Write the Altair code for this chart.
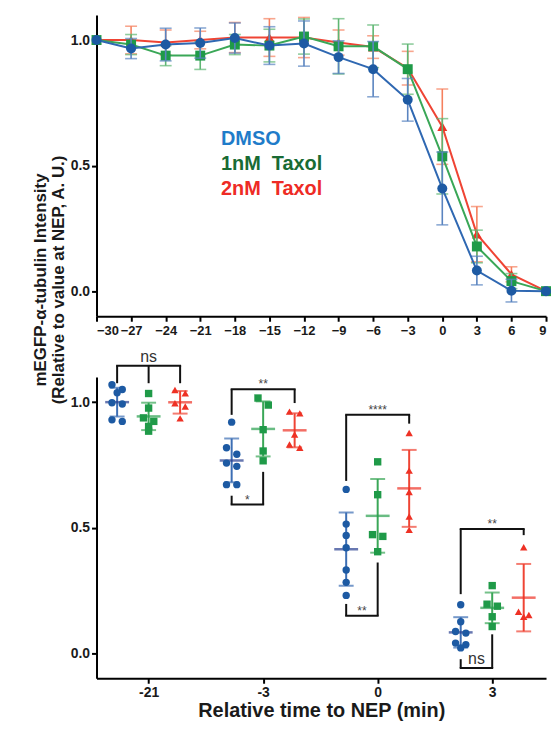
import altair as alt
import pandas as pd

# ---------------- data ----------------
series = ["DMSO", "1nM Taxol", "2nM Taxol"]
legend_labels = ["DMSO", "1nM\u00a0 Taxol", "2nM\u00a0 Taxol"]

times = [-30, -27, -24, -21, -18, -15, -12, -9, -6, -3, 0, 3, 6, 9]
dmso_mean = [1.0, 0.966, 0.982, 0.988, 1.008, 0.978, 0.986, 0.932, 0.884, 0.762, 0.409, 0.082, 0.002, 0.0]
dmso_sd = [0.0, 0.04, 0.065, 0.06, 0.06, 0.075, 0.09, 0.065, 0.11, 0.085, 0.145, 0.057, 0.045, 0.0]
taxol1_mean = [1.0, 0.982, 0.938, 0.938, 0.982, 0.978, 1.014, 0.975, 0.975, 0.884, 0.537, 0.178, 0.04, 0.0]
taxol1_sd = [0.0, 0.04, 0.04, 0.055, 0.04, 0.065, 0.07, 0.11, 0.085, 0.1, 0.15, 0.065, 0.03, 0.0]
taxol2_mean = [1.0, 1.0, 0.99, 1.0, 1.01, 1.01, 1.01, 0.99, 0.972, 0.888, 0.655, 0.227, 0.067, 0.0]
taxol2_sd = [0.0, 0.055, 0.05, 0.035, 0.06, 0.075, 0.08, 0.05, 0.045, 0.067, 0.15, 0.11, 0.03, 0.0]

bottom_times = ["-21", "-3", "0", "3"]
dmso_pts = [
    [1.069, 1.050, 1.037, 0.997, 0.992, 0.929, 0.923],
    [0.920, 0.818, 0.792, 0.757, 0.744, 0.671, 0.671],
    [0.652, 0.514, 0.469, 0.420, 0.331, 0.282, 0.230],
    [0.193, 0.125, 0.086, 0.080, 0.040, 0.034, 0.021],
]
taxol1_pts = [
    [1.034, 0.976, 0.937, 0.923, 0.903, 0.884],
    [1.016, 0.988, 0.890, 0.805, 0.766],
    [0.762, 0.631, 0.472, 0.465, 0.404],
    [0.269, 0.195, 0.187, 0.145, 0.106],
]
taxol2_pts = [
    [1.048, 1.035, 0.995, 0.982, 0.935],
    [0.962, 0.955, 0.871, 0.831, 0.818],
    [0.877, 0.727, 0.642, 0.544, 0.491],
    [0.422, 0.165, 0.152, 0.145],
]

# significance brackets: category, groups, prong ends, bar level, label, label level
brackets = [
    (0, [0, 1, 2], [1.075, 1.075, 1.075], 1.145, "ns", 1.18),
    (1, [0, 2], [0.949, 0.996], 1.051, "**", 1.072),
    (1, [0, 1], [0.627, 0.722], 0.592, "*", 0.610),
    (2, [0, 2], [0.686, 0.914], 0.949, "****", 0.970),
    (2, [0, 1], [0.196, 0.361], 0.149, "**", 0.168),
    (3, [0, 2], [0.235, 0.470], 0.494, "**", 0.515),
    (3, [0, 1], [-0.024, 0.075], -0.059, "ns", -0.022),
]

# ---------------- styles ----------------
FONT = "Liberation Sans"
marker_colors = ["#1d5aa3", "#1f9a48", "#ee3124"]
line_colors = ["#2f68b2", "#3aa757", "#ef4434"]
err_colors = ["#5a84c0", "#5fb673", "#f5805e"]
legend_colors = ["#1f7cc9", "#196b34", "#ee2b25"]
mean_colors = ["#283f90", "#2aa04e", "#ee3124"]
sd_colors = ["#3c6eb4", "#3aa757", "#ef4434"]
shapes = ["circle", "square", "triangle-up"]
group_offset = [-0.275, 0.0, 0.275]
JIT = 0.045
W, H = 452, 303

# ---------------- top panel ----------------
rows = []
for s, m, sd in zip(series, [dmso_mean, taxol1_mean, taxol2_mean], [dmso_sd, taxol1_sd, taxol2_sd]):
    for t, mv, sv in zip(times, m, sd):
        rows.append(dict(series=s, time=t, mean=mv, lo=mv - sv, hi=mv + sv, sd=sv))
top_df = pd.DataFrame(rows)

y_scale = alt.Scale(domain=[-0.1, 1.1], nice=False, zero=False)
x_top_scale = alt.Scale(domain=[-30, 9], nice=False, zero=False)
x_top_axis = alt.Axis(values=times, title=None, labelFontSize=13, format="d", labelPadding=3)
y_top_axis = alt.Axis(
    values=[0.0, 0.5, 1.0], format=".1f",
    title=["mEGFP-\u03b1-tubulin Intensity", "(Relative to value at NEP, A. U.)"],
    titleFontSize=17, titleLineHeight=18, titleAngle=270, titleAlign="center",
    titleBaseline="middle", titleX=-56, titleY=266,
)


def xt(field="time"):
    return alt.X(f"{field}:Q", scale=x_top_scale, axis=x_top_axis)


def yt(field):
    return alt.Y(f"{field}:Q", scale=y_scale, axis=y_top_axis)


top_layers = []
for i in [2, 1, 0]:
    s = series[i]
    base = alt.Chart(top_df).transform_filter(alt.datum.series == s)
    errb = base.transform_filter(alt.datum.sd > 0)
    top_layers.append(errb.mark_rule(color=err_colors[i], strokeWidth=1.6).encode(x=xt(), y=yt("lo"), y2="hi:Q"))
    top_layers.append(errb.mark_tick(orient="horizontal", color=err_colors[i], size=12, thickness=1.6).encode(x=xt(), y=yt("lo")))
    top_layers.append(errb.mark_tick(orient="horizontal", color=err_colors[i], size=12, thickness=1.6).encode(x=xt(), y=yt("hi")))
    top_layers.append(base.mark_line(color=line_colors[i], strokeWidth=2).encode(x=xt(), y=yt("mean")))
    top_layers.append(base.mark_point(shape=shapes[i], filled=True, size=100, color=marker_colors[i], opacity=1).encode(x=xt(), y=yt("mean")))

leg_df = pd.DataFrame({"series": series, "label": legend_labels, "k": [0, 1, 2]})
legend_layer = alt.Chart(leg_df).transform_calculate(
    lx="-19.2", ly="0.605 - 0.1 * datum.k"
).mark_text(align="left", baseline="middle", font=FONT, fontWeight="bold", fontSize=20).encode(
    x=xt("lx"), y=yt("ly"), text="label:N",
    color=alt.Color("series:N", scale=alt.Scale(domain=series, range=legend_colors), legend=None),
)
top_layers.append(legend_layer)

top = alt.layer(*top_layers).properties(width=W, height=H)

# ---------------- bottom panel ----------------
def spread(vals):
    order = sorted(range(len(vals)), key=lambda k: -vals[k])
    offs = [0.0] * len(vals)
    clusters, cur = [], [order[0]]
    for k in order[1:]:
        if abs(vals[k] - vals[cur[-1]]) < 0.03:
            cur.append(k)
        else:
            clusters.append(cur)
            cur = [k]
    clusters.append(cur)
    for c in clusters:
        n = len(c)
        for j, k in enumerate(c):
            if n == 1:
                offs[k] = 0.0
            else:
                offs[k] = (-1 if j % 2 == 0 else 1) * JIT if n == 2 or j < 2 else 0.0
    return offs


brow = []
for gi, (s, allp) in enumerate(zip(series, [dmso_pts, taxol1_pts, taxol2_pts])):
    for ci, vals in enumerate(allp):
        xc = ci + group_offset[gi]
        for v, j in zip(vals, spread(vals)):
            brow.append(dict(series=s, cat=ci, xc=xc, xj=xc + j, value=v))
bot_df = pd.DataFrame(brow)

x_bot_scale = alt.Scale(domain=[-0.455, 3.47], nice=False, zero=False)
x_bot_axis = alt.Axis(
    values=[0, 1, 2, 3], labelExpr="['-21','-3','0','3'][datum.value]",
    title="Relative time to NEP (min)", titleFontSize=20, titlePadding=1, labelFontSize=14, labelPadding=2,
)
y_bot_axis = alt.Axis(values=[0.0, 0.5, 1.0], format=".1f", title=None)


def xb(field):
    return alt.X(f"{field}:Q", scale=x_bot_scale, axis=x_bot_axis)


def yb(field):
    return alt.Y(f"{field}:Q", scale=y_scale, axis=y_bot_axis)


def cscale(rng):
    return alt.Color("series:N", scale=alt.Scale(domain=series, range=rng), legend=None)


summ = alt.Chart(bot_df).transform_aggregate(
    m="mean(value)", sd="stdev(value)", groupby=["series", "xc"]
).transform_calculate(lo="datum.m - datum.sd", hi="datum.m + datum.sd")

pts = alt.Chart(bot_df).mark_point(filled=True, size=55, opacity=1).encode(
    x=xb("xj"), y=yb("value"), color=cscale(marker_colors),
    shape=alt.Shape("series:N", scale=alt.Scale(domain=series, range=shapes), legend=None),
)
sd_rule = summ.mark_rule(strokeWidth=2).encode(x=xb("xc"), y=yb("lo"), y2="hi:Q", color=cscale(sd_colors))
sd_lo = summ.mark_tick(orient="horizontal", size=15, thickness=2).encode(x=xb("xc"), y=yb("lo"), color=cscale(sd_colors))
sd_hi = summ.mark_tick(orient="horizontal", size=15, thickness=2).encode(x=xb("xc"), y=yb("hi"), color=cscale(sd_colors))
mean_tick = summ.mark_tick(orient="horizontal", size=24, thickness=2.5).encode(x=xb("xc"), y=yb("m"), color=cscale(mean_colors))

vrows, hrows, lrows = [], [], []
for ci, groups, ends, bar, lab, ly in brackets:
    xs = [ci + group_offset[g] for g in groups]
    for xv, e in zip(xs, ends):
        vrows.append(dict(x=xv, y=e, y2=bar))
    hrows.append(dict(x=min(xs), x2=max(xs), y=bar))
    lrows.append(dict(x=(min(xs) + max(xs)) / 2, y=ly, label=lab, big=lab == "ns"))
vdf, hdf, ldf = pd.DataFrame(vrows), pd.DataFrame(hrows), pd.DataFrame(lrows)

br_v = alt.Chart(vdf).mark_rule(color="#111111", strokeWidth=2).encode(x=xb("x"), y=yb("y"), y2="y2:Q")
br_h = alt.Chart(hdf).mark_rule(color="#111111", strokeWidth=2, strokeCap="square").encode(x=xb("x"), x2="x2:Q", y=yb("y"))
lab_ns = alt.Chart(ldf).transform_filter("datum.big").mark_text(
    font=FONT, fontSize=16, color="#333333", baseline="middle"
).encode(x=xb("x"), y=yb("y"), text="label:N")
lab_st = alt.Chart(ldf).transform_filter("!datum.big").mark_text(
    font=FONT, fontSize=12, color="#444444", baseline="middle"
).encode(x=xb("x"), y=yb("y"), text="label:N")

bottom = alt.layer(br_v, br_h, sd_rule, sd_lo, sd_hi, mean_tick, pts, lab_ns, lab_st).resolve_scale(
    color="independent"
).properties(width=W, height=H)

chart = alt.vconcat(top, bottom, spacing=61, bounds="flush").properties(
    padding={"left": 24, "top": 5, "right": 0, "bottom": 0}
).configure_axis(
    domainColor="black", domainWidth=2, tickColor="black", tickWidth=2, tickSize=5,
    labelFont=FONT, labelFontWeight="bold", labelColor="#1a1a1a", labelFontSize=14,
    grid=False, titleFont=FONT, titleFontWeight="bold", titleColor="#1a1a1a",
).configure_view(stroke=None)

chart.save("out.html", embed_options={"renderer": "svg", "actions": False})
